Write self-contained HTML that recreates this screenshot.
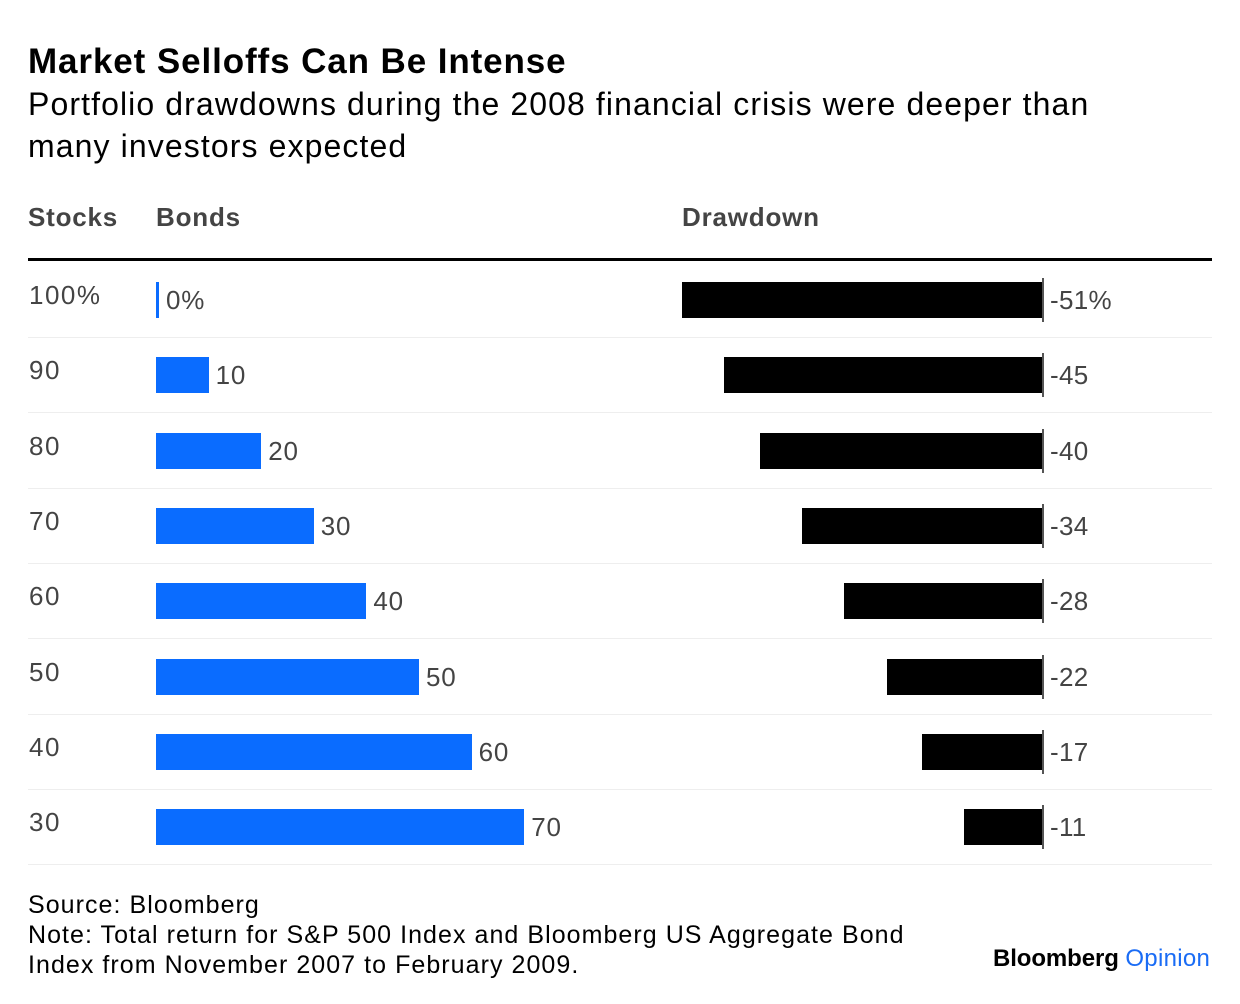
<!DOCTYPE html>
<html><head><meta charset="utf-8">
<style>
body{margin:0;background:#fff;font-family:"Liberation Sans",sans-serif;}
#c{position:relative;width:1240px;height:1004px;overflow:hidden;}
.t{position:absolute;white-space:nowrap;}
</style></head><body>
<div id="c">
<div class="t" style="left:28px;top:42px;font-size:35px;font-weight:bold;color:#000;letter-spacing:0.9px">Market Selloffs Can Be Intense</div>
<div class="t" style="left:28px;top:83px;font-size:32px;color:#000;line-height:42px;letter-spacing:1.1px">Portfolio drawdowns during the 2008 financial crisis were deeper than<br>many investors expected</div>
<div class="t" style="left:28px;top:202px;font-size:26px;font-weight:bold;color:#444;letter-spacing:0.8px">Stocks</div>
<div class="t" style="left:156px;top:202px;font-size:26px;font-weight:bold;color:#444;letter-spacing:0.8px">Bonds</div>
<div class="t" style="left:682px;top:202px;font-size:26px;font-weight:bold;color:#444;letter-spacing:0.8px">Drawdown</div>
<div style="position:absolute;left:28px;top:258px;width:1184px;height:3px;background:#000"></div>
<div id="rows"></div>
<div class="t" style="left:28px;top:890px;font-size:25px;line-height:30px;color:#000;letter-spacing:1.05px">Source: Bloomberg<br>Note: Total return for S&amp;P 500 Index and Bloomberg US Aggregate Bond<br>Index from November 2007 to February 2009.</div>
<div class="t" style="left:993px;top:945px;font-size:24px;font-weight:bold;letter-spacing:-0.1px;color:#000">Bloomberg <span style="color:#1a6cf5;font-weight:normal;letter-spacing:0.3px">Opinion</span></div>
</div>
<script>
const stockLabels=["100%","90","80","70","60","50","40","30"];
const bonds=[0,10,20,30,40,50,60,70];
const bondLabels=["0%","10","20","30","40","50","60","70"];
const drawdown=[-51,-45,-40,-34,-28,-22,-17,-11];
const drawLabels=["-51%","-45","-40","-34","-28","-22","-17","-11"];
const c=document.getElementById('rows');
const rowY=i=>300+i*75.3;
const bx=v=>v*5.26;
const dx=v=>Math.abs(v)*7.06;
function mk(tag,style,txt){const e=document.createElement('div');e.style.cssText='position:absolute;'+style;if(txt!==undefined)e.textContent=txt;c.appendChild(e);return e;}
bonds.forEach((b,i)=>{
  const y=rowY(i);
  let e=mk('div',`left:29px;top:${y-20}px;font-size:26px;color:#444;white-space:nowrap;letter-spacing:1.5px`,stockLabels[i]);
  
  
  const w=Math.max(3,bx(b));
  e=mk('div',`left:156px;top:${y-18}px;width:${w}px;height:36px;background:#0a6cff`);
  
  
  e=mk('div',`left:${156+w+7}px;top:${y-15}px;font-size:26px;color:#444;white-space:nowrap;letter-spacing:0.8px`,bondLabels[i]);
  
  
  const dw=dx(drawdown[i]);
  e=mk('div',`left:${1042-dw}px;top:${y-18}px;width:${dw}px;height:36px;background:#000`);
  
  
  e=mk('div',`left:1042px;top:${y-22}px;width:2px;height:44px;background:#555`);
  
  
  e=mk('div',`left:1050px;top:${y-15}px;font-size:26px;color:#444;white-space:nowrap;letter-spacing:0.3px`,drawLabels[i]);
  
  
  e=mk('div',`left:28px;top:${y+37}px;width:1184px;height:1px;background:#eee`);
  
  
});
</script>
</body></html>
